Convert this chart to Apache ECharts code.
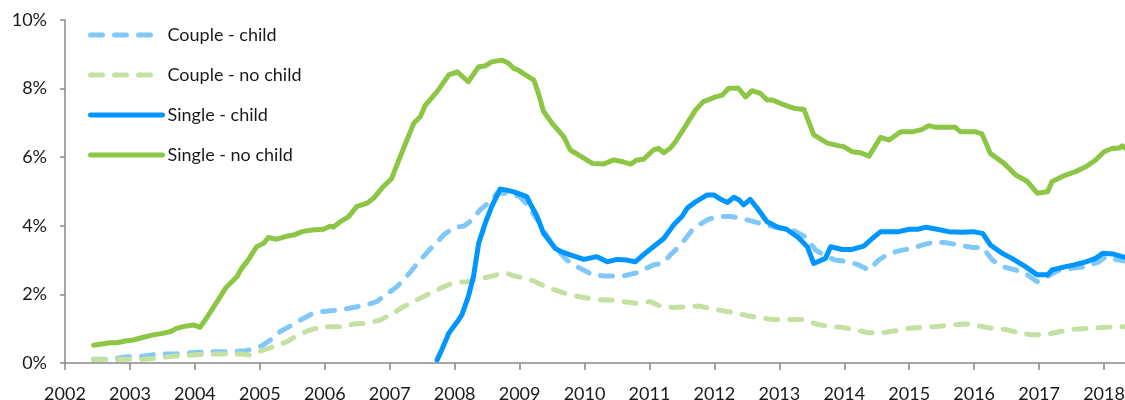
<!DOCTYPE html>
<html lang="en">
<head>
    <meta charset="UTF-8">
    <title>Households</title>
    <script src="https://cdn.jsdelivr.net/npm/echarts@6/dist/echarts.min.js"></script>
    <style>
        html, body { margin: 0; padding: 0; background: #fff; }
    </style>
</head>
<body>
<div id="chart" style="width:1125px;height:400px"></div>
<script>
    // years on the x axis (fractional = month within year), values in %
    const seriesNames = ['Couple - child', 'Couple - no child', 'Single - child', 'Single - no child'];
    const yearTicks = [2002, 2003, 2004, 2005, 2006, 2007, 2008, 2009, 2010, 2011, 2012, 2013, 2014, 2015, 2016, 2017, 2018];

    const coupleChildT = [2002.44, 2002.69, 2002.95, 2003.21, 2003.41, 2003.67, 2003.95, 2004.23, 2004.49, 2004.80,
        2005.03, 2005.16, 2005.31, 2005.47, 2005.62, 2005.80, 2005.96, 2006.08, 2006.24, 2006.44, 2006.65, 2006.80,
        2006.90, 2007.11, 2007.26, 2007.47, 2007.68, 2007.86, 2008.01, 2008.14, 2008.27, 2008.39, 2008.57, 2008.65,
        2008.80, 2009.00, 2009.10, 2009.30, 2009.50, 2009.73, 2009.88, 2010.04, 2010.12, 2010.29, 2010.60, 2010.81,
        2011.06, 2011.22, 2011.32, 2011.48, 2011.68, 2011.89, 2012.04, 2012.25, 2012.40, 2012.61, 2012.81, 2013.01,
        2013.23, 2013.40, 2013.56, 2013.71, 2013.86, 2014.07, 2014.22, 2014.38, 2014.53, 2014.69, 2014.89, 2015.05,
        2015.20, 2015.35, 2015.56, 2015.76, 2015.97, 2016.13, 2016.28, 2016.43, 2016.64, 2016.79, 2016.97, 2017.13,
        2017.28, 2017.51, 2017.72, 2017.92, 2018.03, 2018.18, 2018.33];
    const coupleChildV = [0.11, 0.11, 0.18, 0.20, 0.26, 0.26, 0.30, 0.33, 0.33, 0.36,
        0.50, 0.67, 0.91, 1.08, 1.25, 1.43, 1.50, 1.52, 1.55, 1.62, 1.70, 1.79,
        1.93, 2.22, 2.52, 3.00, 3.44, 3.78, 3.96, 3.99, 4.17, 4.46, 4.75, 4.95,
        4.95, 4.85, 4.66, 4.10, 3.45, 3.00, 2.81, 2.66, 2.57, 2.54, 2.54, 2.63,
        2.86, 2.92, 3.15, 3.44, 3.93, 4.17, 4.27, 4.27, 4.22, 4.12, 4.02, 3.93,
        3.85, 3.68, 3.29, 3.12, 3.00, 2.95, 2.86, 2.71, 3.00, 3.20, 3.29, 3.34,
        3.44, 3.51, 3.51, 3.44, 3.37, 3.37, 3.00, 2.81, 2.71, 2.61, 2.37, 2.52,
        2.69, 2.76, 2.81, 2.95, 3.10, 3.02, 2.97];

    const coupleNoChildT = [2002.44, 2002.69, 2002.95, 2003.21, 2003.41, 2003.67, 2003.95, 2004.18, 2004.49, 2004.75,
        2004.85, 2005.03, 2005.21, 2005.42, 2005.59, 2005.77, 2005.96, 2006.13, 2006.29, 2006.44, 2006.65, 2006.85,
        2007.01, 2007.21, 2007.42, 2007.62, 2007.83, 2007.98, 2008.19, 2008.34, 2008.50, 2008.65, 2008.78, 2008.91,
        2009.09, 2009.24, 2009.42, 2009.58, 2009.78, 2009.99, 2010.19, 2010.40, 2010.60, 2010.81, 2011.01, 2011.17,
        2011.37, 2011.57, 2011.75, 2011.94, 2012.14, 2012.35, 2012.50, 2012.68, 2012.89, 2013.09, 2013.35, 2013.56,
        2013.76, 2013.97, 2014.17, 2014.38, 2014.58, 2014.79, 2014.99, 2015.20, 2015.41, 2015.66, 2015.87, 2016.07,
        2016.28, 2016.48, 2016.69, 2016.89, 2017.10, 2017.31, 2017.51, 2017.77, 2018.03, 2018.33];
    const coupleNoChildV = [0.11, 0.09, 0.11, 0.11, 0.14, 0.20, 0.23, 0.26, 0.26, 0.26,
        0.23, 0.36, 0.48, 0.62, 0.82, 0.96, 1.06, 1.06, 1.06, 1.14, 1.16, 1.25,
        1.40, 1.64, 1.84, 2.03, 2.22, 2.34, 2.37, 2.42, 2.50, 2.57, 2.63, 2.54,
        2.47, 2.37, 2.20, 2.11, 1.98, 1.91, 1.85, 1.84, 1.79, 1.74, 1.79, 1.66,
        1.62, 1.64, 1.66, 1.59, 1.52, 1.45, 1.38, 1.33, 1.27, 1.27, 1.27, 1.14,
        1.06, 1.04, 0.96, 0.88, 0.88, 0.94, 1.01, 1.04, 1.06, 1.11, 1.14, 1.08,
        1.01, 0.98, 0.88, 0.82, 0.82, 0.91, 0.98, 1.01, 1.04, 1.06];

    const singleChildT = [2007.73, 2007.80, 2007.91, 2008.04, 2008.11, 2008.21, 2008.29, 2008.37, 2008.47, 2008.57,
        2008.70, 2008.80, 2008.91, 2009.11, 2009.16, 2009.27, 2009.37, 2009.47, 2009.55, 2009.65, 2009.78, 2009.99,
        2010.19, 2010.35, 2010.50, 2010.65, 2010.78, 2010.96, 2011.06, 2011.22, 2011.37, 2011.50, 2011.58, 2011.71,
        2011.89, 2011.99, 2012.12, 2012.20, 2012.30, 2012.38, 2012.45, 2012.55, 2012.66, 2012.81, 2012.96, 2013.11,
        2013.29, 2013.43, 2013.53, 2013.71, 2013.79, 2013.97, 2014.12, 2014.30, 2014.43, 2014.56, 2014.84, 2015.00,
        2015.13, 2015.26, 2015.43, 2015.61, 2015.82, 2015.98, 2016.13, 2016.25, 2016.43, 2016.58, 2016.79, 2016.97,
        2017.13, 2017.20, 2017.41, 2017.54, 2017.72, 2017.87, 2017.98, 2018.13, 2018.28, 2018.33];
    const singleChildV = [0.09, 0.38, 0.87, 1.20, 1.40, 1.93, 2.52, 3.49, 4.07, 4.56,
        5.07, 5.04, 4.99, 4.85, 4.66, 4.27, 3.78, 3.54, 3.34, 3.24, 3.15, 3.02,
        3.10, 2.95, 3.02, 3.00, 2.95, 3.24, 3.39, 3.63, 4.02, 4.27, 4.51, 4.70,
        4.90, 4.90, 4.75, 4.68, 4.83, 4.75, 4.61, 4.77, 4.51, 4.12, 3.97, 3.90,
        3.66, 3.39, 2.90, 3.05, 3.39, 3.31, 3.31, 3.41, 3.63, 3.83, 3.83, 3.90,
        3.90, 3.96, 3.90, 3.83, 3.81, 3.83, 3.78, 3.44, 3.20, 3.05, 2.81, 2.57,
        2.57, 2.71, 2.81, 2.86, 2.95, 3.05, 3.20, 3.18, 3.10, 3.08];

    const singleNoChildT = [2002.44, 2002.69, 2002.80, 2002.95, 2003.05, 2003.21, 2003.36, 2003.46, 2003.62, 2003.72,
        2003.82, 2003.98, 2004.08, 2004.21, 2004.36, 2004.47, 2004.65, 2004.72, 2004.82, 2004.95, 2005.06, 2005.13,
        2005.26, 2005.42, 2005.52, 2005.65, 2005.80, 2005.98, 2006.08, 2006.13, 2006.24, 2006.37, 2006.49, 2006.65,
        2006.75, 2006.90, 2007.03, 2007.16, 2007.37, 2007.47, 2007.55, 2007.73, 2007.91, 2008.04, 2008.21, 2008.37,
        2008.47, 2008.57, 2008.73, 2008.83, 2008.91, 2008.98, 2009.09, 2009.22, 2009.29, 2009.37, 2009.50, 2009.68,
        2009.78, 2009.99, 2010.12, 2010.29, 2010.45, 2010.58, 2010.71, 2010.81, 2010.91, 2011.06, 2011.14, 2011.22,
        2011.32, 2011.40, 2011.55, 2011.71, 2011.83, 2012.02, 2012.12, 2012.22, 2012.37, 2012.48, 2012.58, 2012.71,
        2012.81, 2012.89, 2013.04, 2013.22, 2013.38, 2013.53, 2013.74, 2013.92, 2013.99, 2014.12, 2014.25, 2014.38,
        2014.56, 2014.69, 2014.87, 2015.05, 2015.20, 2015.30, 2015.41, 2015.71, 2015.79, 2016.02, 2016.12, 2016.25,
        2016.46, 2016.64, 2016.82, 2016.97, 2017.13, 2017.20, 2017.41, 2017.56, 2017.72, 2017.87, 2018.00, 2018.13,
        2018.23, 2018.28, 2018.33];
    const singleNoChildV = [0.52, 0.59, 0.59, 0.65, 0.67, 0.75, 0.82, 0.85, 0.91, 1.01,
        1.06, 1.11, 1.04, 1.40, 1.84, 2.18, 2.52, 2.76, 3.00, 3.39, 3.49, 3.66,
        3.61, 3.70, 3.73, 3.83, 3.88, 3.90, 3.99, 3.96, 4.12, 4.27, 4.56, 4.66,
        4.80, 5.14, 5.38, 6.01, 6.99, 7.18, 7.52, 7.91, 8.40, 8.49, 8.20, 8.64,
        8.66, 8.78, 8.83, 8.74, 8.59, 8.54, 8.40, 8.25, 7.86, 7.33, 6.99, 6.60,
        6.21, 5.97, 5.82, 5.80, 5.92, 5.87, 5.80, 5.92, 5.94, 6.21, 6.26, 6.13,
        6.26, 6.45, 6.89, 7.38, 7.62, 7.76, 7.81, 8.01, 8.01, 7.76, 7.94, 7.86,
        7.67, 7.67, 7.55, 7.43, 7.39, 6.65, 6.41, 6.33, 6.31, 6.16, 6.13, 6.03,
        6.58, 6.50, 6.74, 6.74, 6.81, 6.92, 6.87, 6.87, 6.74, 6.74, 6.68, 6.11,
        5.82, 5.48, 5.29, 4.95, 4.99, 5.29, 5.48, 5.58, 5.72, 5.92, 6.16, 6.26,
        6.26, 6.33, 6.26];

    const colors = ['#80c8f8', '#c4e1a2', '#0096ff', '#8cc644'];
    const font = 'Lato';

    function zip(t, v) {
        return t.map((x, i) => [x, v[i]]);
    }

    const allData = [
        zip(coupleChildT, coupleChildV),
        zip(coupleNoChildT, coupleNoChildV),
        zip(singleChildT, singleChildV),
        zip(singleNoChildT, singleNoChildV)
    ];

    let myChart = echarts.init(document.getElementById('chart'));
    let option = {
        animation: false,
        color: colors,
        textStyle: {fontFamily: font},
        // the 2018-2019 year runs past the right edge, as in the source picture
        grid: {left: 65, right: -44, top: 20, bottom: 37, outerBoundsMode: 'none', containLabel: false},
        legend: {
            orient: 'vertical',
            left: 88,
            top: 25,
            padding: 0,
            itemWidth: 72,
            itemHeight: 20,
            itemGap: 20,
            selectedMode: false,
            lineStyle: {width: 5},
            itemStyle: {color: 'transparent', borderWidth: 0, opacity: 0},
            textStyle: {fontFamily: font, fontSize: 18, color: '#1a1a1a', lineHeight: 20},
            data: seriesNames
        },
        xAxis: {
            type: 'value',
            min: yearTicks[0],
            max: yearTicks[yearTicks.length - 1] + 1,
            interval: 1,
            splitLine: {show: false},
            axisLine: {lineStyle: {color: '#888', width: 1.5}},
            axisTick: {show: true, length: 7, lineStyle: {color: '#888', width: 1.5}},
            axisLabel: {
                fontFamily: font, fontSize: 18, color: '#1a1a1a', margin: 22,
                formatter: v => String(v)
            }
        },
        yAxis: {
            type: 'value',
            min: 0,
            max: 10,
            interval: 2,
            splitLine: {show: false},
            axisLine: {show: true, lineStyle: {color: '#888', width: 1.5}},
            axisTick: {show: true, length: 5, lineStyle: {color: '#888', width: 1.5}},
            axisLabel: {fontFamily: font, fontSize: 18, color: '#1a1a1a', margin: 18, formatter: '{value}%'}
        },
        series: seriesNames.map((name, i) => ({
            name: name,
            type: 'line',
            symbol: 'none',
            smooth: false,
            data: allData[i],
            lineStyle: {
                width: 5,
                color: colors[i],
                type: i < 2 ? [12, 12] : 'solid',
                cap: 'round',
                join: 'round'
            }
        }))
    };
    myChart.setOption(option);
</script>
</body>
</html>
